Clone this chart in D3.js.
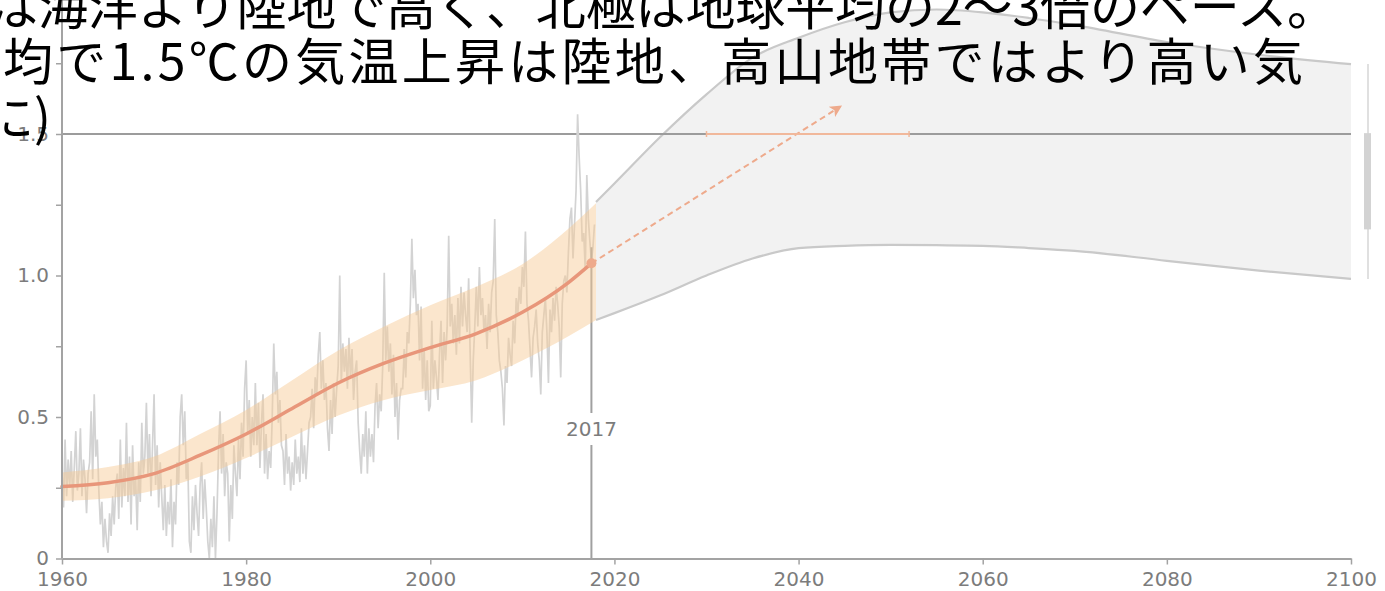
<!DOCTYPE html>
<html><head><meta charset="utf-8">
<script src="https://cdn.jsdelivr.net/npm/d3@7/dist/d3.min.js"></script>
<style>
html,body{margin:0;padding:0;background:#fff;overflow:hidden;}
svg{display:block;}
</style></head><body>
<svg id="chart" width="1385" height="591"></svg>
<script>
// ---------------- data ----------------
const xTickYears = [1960, 1980, 2000, 2020, 2040, 2060, 2080, 2100];
const yTickValues = [0, 0.25, 0.5, 0.75, 1.0, 1.25, 1.5, 1.75];
const yTickLabels = ["0", "", "0.5", "", "1.0", "", "1.5", ""];

// observed global mean temperature change (six samples per year, 1960 ... 2017)
const anomalyStartYear = 1960;
const samplesPerYear = 6;
const observedAnomaly = [
  0.30, 0.18, 0.42, 0.22, 0.35, 0.25,   0.38, 0.20, 0.32, 0.45, 0.24, 0.30,
  0.46, 0.22, 0.35, 0.28, 0.16, 0.30,   0.34, 0.52, 0.28, 0.58, 0.36, 0.42,
  0.24, 0.12, 0.20, 0.04, 0.14, 0.06,   0.02, 0.16, 0.08, 0.22, 0.12, 0.25,
  0.30, 0.14, 0.42, 0.18, 0.32, 0.22,   0.48, 0.20, 0.36, 0.12, 0.40, 0.22,
  0.28, 0.10, 0.34, 0.20, 0.48, 0.30,   0.36, 0.55, 0.30, 0.44, 0.22, 0.40,
  0.58, 0.26, 0.40, 0.18, 0.34, 0.22,   0.10, 0.26, 0.08, 0.20, 0.12, 0.28,
  0.04, 0.20, 0.12, 0.34, 0.26, 0.50,   0.58, 0.40, 0.52, 0.28, 0.34, 0.06,
  0.02, 0.22, 0.10, 0.26, 0.16, 0.08,   0.26, 0.34, 0.14, 0.28, 0.18, 0.06,
  0.00, 0.14, 0.04, 0.22, 0.00, 0.16,   0.38, 0.52, 0.30, 0.44, 0.22, 0.34,
  0.30, 0.06, 0.26, 0.14, 0.40, 0.30,   0.22, 0.42, 0.28, 0.48, 0.36, 0.60,
  0.70, 0.44, 0.56, 0.36, 0.50, 0.40,   0.62, 0.40, 0.55, 0.32, 0.48, 0.58,
  0.30, 0.44, 0.28, 0.38, 0.32, 0.50,   0.76, 0.58, 0.66, 0.48, 0.56, 0.40,
  0.38, 0.26, 0.44, 0.30, 0.36, 0.24,   0.34, 0.26, 0.42, 0.30, 0.36, 0.27,
  0.46, 0.30, 0.40, 0.28, 0.38, 0.48,   0.50, 0.60, 0.46, 0.64, 0.58, 0.72,
  0.80, 0.60, 0.70, 0.56, 0.62, 0.46,   0.38, 0.56, 0.44, 0.62, 0.50, 0.60,
  0.68, 1.00, 0.62, 0.76, 0.66, 0.74,   0.60, 0.78, 0.64, 0.74, 0.56, 0.66,
  0.70, 0.48, 0.38, 0.30, 0.44, 0.36,   0.52, 0.30, 0.46, 0.36, 0.44, 0.34,
  0.54, 0.62, 0.46, 0.58, 0.52, 0.68,   1.01, 0.70, 0.82, 0.66, 0.76, 0.58,
  0.72, 0.50, 0.62, 0.42, 0.56, 0.60,   0.60, 0.74, 0.64, 0.80, 0.76, 0.90,
  1.13, 0.92, 1.02, 0.86, 0.90, 0.70,   0.89, 0.60, 0.74, 0.56, 0.70, 0.52,
  0.54, 0.84, 0.60, 0.70, 0.64, 0.56,   0.72, 0.84, 0.62, 0.80, 0.70, 0.82,
  1.14, 0.82, 0.90, 0.76, 0.86, 0.72,   0.92, 0.76, 0.96, 0.82, 0.94, 0.86,
  0.80, 0.99, 0.72, 0.48, 0.70, 0.82,   0.96, 0.82, 1.03, 0.86, 0.92, 0.80,
  0.86, 0.74, 0.90, 0.80, 0.94, 0.98,   1.20, 0.86, 0.80, 0.70, 0.66, 0.60,
  0.47, 0.68, 0.62, 0.78, 0.72, 0.68,   0.84, 0.76, 0.92, 0.86, 0.96, 0.90,
  1.03, 0.96, 1.155, 0.90, 0.84, 0.74,  0.64, 0.78, 0.82, 0.88, 0.76, 0.70,
  0.58, 0.80, 0.86, 0.92, 0.80, 0.62,   0.88, 0.80, 0.92, 0.84, 0.96, 0.90,
  0.82, 0.64, 0.90, 0.98, 1.00, 0.94,   1.08, 1.20, 1.24, 1.06, 1.18, 1.30,
  1.57, 1.42, 1.30, 1.12, 1.15, 1.02,   1.355, 1.20, 1.12, 1.05, 1.10, 1.18
];

// smoothed observed warming (orange line)
const trendYears  = [1960, 1965, 1970, 1975, 1980, 1985, 1990, 1995, 2000, 2005, 2010, 2015, 2017.5];
const trendValues = [0.254, 0.268, 0.30, 0.365, 0.44, 0.53, 0.62, 0.69, 0.745, 0.795, 0.87, 0.975, 1.043];

// likely range of observed warming (orange band)
const bandYears = [1960, 1965, 1970, 1975, 1980, 1985, 1990, 1995, 2000, 2005, 2010, 2015, 2018];
const bandLow   = [0.204, 0.213, 0.24, 0.29, 0.355, 0.43, 0.505, 0.56, 0.595, 0.63, 0.70, 0.785, 0.843];
const bandHigh  = [0.304, 0.323, 0.36, 0.44, 0.525, 0.63, 0.735, 0.82, 0.895, 0.96, 1.04, 1.165, 1.255];

// projected range (grey band)
const projYears = [2018, 2020, 2025, 2030, 2035, 2040, 2045, 2050, 2055, 2060, 2065, 2070, 2080, 2090, 2100];
const projUpper = [1.26, 1.325, 1.49, 1.64, 1.77, 1.84, 1.895, 1.93, 1.94, 1.93, 1.91, 1.885, 1.825, 1.78, 1.747];
const projLower = [0.843, 0.867, 0.93, 1.0, 1.06, 1.097, 1.105, 1.108, 1.107, 1.105, 1.097, 1.087, 1.052, 1.017, 0.988];

// current point, extrapolation arrow, 1.5 crossing range
const nowLabel = "2017";
const nowYear = 2017.5;
const nowValue = 1.043;
const arrowEndYear = 2044.5;
const arrowEndValue = 1.596;
const targetLevel = 1.5;
const crossingRange = [2030, 2052];

// ranges at 2100 (right side bars)
const range2100Full = [0.988, 1.747];
const range2100Likely = [1.163, 1.503];

// overlay text
const overlayLines = [
  "は海洋より陸地で高く、北極は地球平均の2～3倍のペース。",
  "均で1.5℃の気温上昇は陸地、高山地帯ではより高い気",
  "に)"
];

// ---------------- drawing ----------------
const svg = d3.select("#chart");
const x = d3.scaleLinear().domain([1960, 2100]).range([62, 1351]);
const y = d3.scaleLinear().domain([0, 1.5]).range([558.5, 134]);
const axisGrey = "#a3a3a3";
const labelGrey = "#7c7c7c";
const orange = "#e8967a";
const orangeLight = "#eeaa8c";
const labelFont = "'DejaVu Sans', sans-serif";

// projected grey band
const projData = projYears.map((yr, i) => ({yr, lo: projLower[i], hi: projUpper[i]}));
svg.append("path").datum(projData)
  .attr("d", d3.area().curve(d3.curveMonotoneX).x(d => x(d.yr)).y0(d => y(d.lo)).y1(d => y(d.hi)))
  .attr("fill", "#f2f2f2");
["hi", "lo"].forEach(k => {
  svg.append("path").datum(projData)
    .attr("d", d3.line().curve(d3.curveMonotoneX).x(d => x(d.yr)).y(d => y(d[k])))
    .attr("fill", "none").attr("stroke", "#c9c9c9").attr("stroke-width", 2.2);
});

// 1.5 level line
svg.append("line")
  .attr("x1", x(1960)).attr("x2", x(2100))
  .attr("y1", y(targetLevel)).attr("y2", y(targetLevel))
  .attr("stroke", "#9c9c9c").attr("stroke-width", 2);

// observed noisy series
const obsData = observedAnomaly.map((v, i) => ({yr: anomalyStartYear + i / samplesPerYear, v}));
svg.append("path").datum(obsData)
  .attr("d", d3.line().x(d => x(d.yr)).y(d => y(d.v)))
  .attr("fill", "none").attr("stroke", "#d3d3d3").attr("stroke-width", 1.7);

// "now" vertical line
svg.append("line")
  .attr("x1", x(nowYear)).attr("x2", x(nowYear))
  .attr("y1", y(0)).attr("y2", y(1.1))
  .attr("stroke", "#a0a0a0").attr("stroke-width", 2);

// orange band
const bandData = bandYears.map((yr, i) => ({yr, lo: bandLow[i], hi: bandHigh[i]}));
svg.append("path").datum(bandData)
  .attr("d", d3.area().curve(d3.curveMonotoneX).x(d => x(d.yr)).y0(d => y(d.lo)).y1(d => y(d.hi)))
  .attr("fill", "#f7c994").attr("fill-opacity", 0.47);

// orange trend line
const trendData = trendYears.map((yr, i) => ({yr, v: trendValues[i]}));
svg.append("path").datum(trendData)
  .attr("d", d3.line().curve(d3.curveMonotoneX).x(d => x(d.yr)).y(d => y(d.v)))
  .attr("fill", "none").attr("stroke", orange).attr("stroke-width", 3.5).attr("stroke-linecap", "round");

// arrow marker
const defs = svg.append("defs");
defs.append("marker").attr("id", "arrowhead")
  .attr("viewBox", "0 0 10 10").attr("refX", 8).attr("refY", 5)
  .attr("markerWidth", 14).attr("markerHeight", 12)
  .attr("markerUnits", "userSpaceOnUse").attr("orient", "auto")
  .append("path").attr("d", "M0,0 L10,5 L0,10 L2.5,5 z").attr("fill", orangeLight);

svg.append("line")
  .attr("x1", x(nowYear)).attr("y1", y(nowValue))
  .attr("x2", x(arrowEndYear)).attr("y2", y(arrowEndValue))
  .attr("stroke", orangeLight).attr("stroke-width", 2)
  .attr("stroke-dasharray", "6,4")
  .attr("marker-end", "url(#arrowhead)");

// now dot
svg.append("circle").attr("cx", x(nowYear)).attr("cy", y(nowValue)).attr("r", 5)
  .attr("fill", orangeLight);

// 1.5 crossing range
svg.append("line")
  .attr("x1", x(crossingRange[0])).attr("x2", x(crossingRange[1]))
  .attr("y1", y(targetLevel)).attr("y2", y(targetLevel))
  .attr("stroke", "#f1b89b").attr("stroke-width", 2);
crossingRange.forEach(yr => {
  svg.append("line")
    .attr("x1", x(yr)).attr("x2", x(yr))
    .attr("y1", y(targetLevel) - 3).attr("y2", y(targetLevel) + 3)
    .attr("stroke", "#f1b89b").attr("stroke-width", 1.5);
});

// right side range bars
const barX = x(2100) + 17;
svg.append("line").attr("x1", barX).attr("x2", barX)
  .attr("y1", y(range2100Full[0])).attr("y2", y(range2100Full[1]))
  .attr("stroke", "#e0e0e0").attr("stroke-width", 2);
svg.append("line").attr("x1", barX - 0.5).attr("x2", barX - 0.5)
  .attr("y1", y(range2100Likely[0])).attr("y2", y(range2100Likely[1]))
  .attr("stroke", "#d3d3d3").attr("stroke-width", 7);

// x axis
const xAxis = svg.append("g").attr("transform", `translate(0,${y(0)})`)
  .call(d3.axisBottom(x).tickValues(xTickYears).tickFormat(d3.format("d")).tickSize(6).tickSizeOuter(0));
xAxis.select(".domain").attr("stroke", axisGrey).attr("stroke-width", 2);
xAxis.selectAll(".tick line").attr("stroke", axisGrey).attr("stroke-width", 1.5);
xAxis.selectAll(".tick text").attr("fill", labelGrey)
  .style("font-family", labelFont).style("font-size", "20px")
  .attr("y", 13);

// y axis
const yAxis = svg.append("g").attr("transform", `translate(${x(1960)},0)`)
  .call(d3.axisLeft(y).tickValues(yTickValues).tickFormat((d, i) => yTickLabels[i]).tickSize(6).tickSizeOuter(0));
yAxis.select(".domain").remove();
yAxis.append("line").attr("x1", 0).attr("x2", 0)
  .attr("y1", y(0)).attr("y2", 0)
  .attr("stroke", axisGrey).attr("stroke-width", 2);
yAxis.selectAll(".tick line").attr("stroke", axisGrey).attr("stroke-width", 1.5);
yAxis.selectAll(".tick text").attr("fill", labelGrey)
  .style("font-family", labelFont).style("font-size", "20px")
  .attr("x", -13);

// now label
const nowText = svg.append("text")
  .attr("x", x(nowYear)).attr("y", 436)
  .attr("text-anchor", "middle")
  .attr("fill", labelGrey)
  .style("font-family", labelFont).style("font-size", "20px")
  .text(nowLabel);
const bb = nowText.node().getBBox();
svg.insert("rect", () => nowText.node())
  .attr("x", bb.x - 2).attr("y", bb.y - 4).attr("width", bb.width + 4).attr("height", bb.height + 8)
  .attr("fill", "#fff");

// overlay Japanese text
const overlay = [
  {t: overlayLines[0], x: -12, y: 25, len: 1349},
  {t: overlayLines[1], x: 3, y: 80, len: 1300},
  {t: overlayLines[2], x: -16, y: 136, len: null}
];
overlay.forEach(o => {
  const t = svg.append("text")
    .attr("x", o.x).attr("y", o.y)
    .attr("fill", "#000")
    .style("font-family", "'Noto Sans CJK JP', sans-serif")
    .style("font-size", "50px")
    .text(o.t);
  if (o.len) t.attr("textLength", o.len).attr("lengthAdjust", "spacing");
});
</script>
</body></html>
